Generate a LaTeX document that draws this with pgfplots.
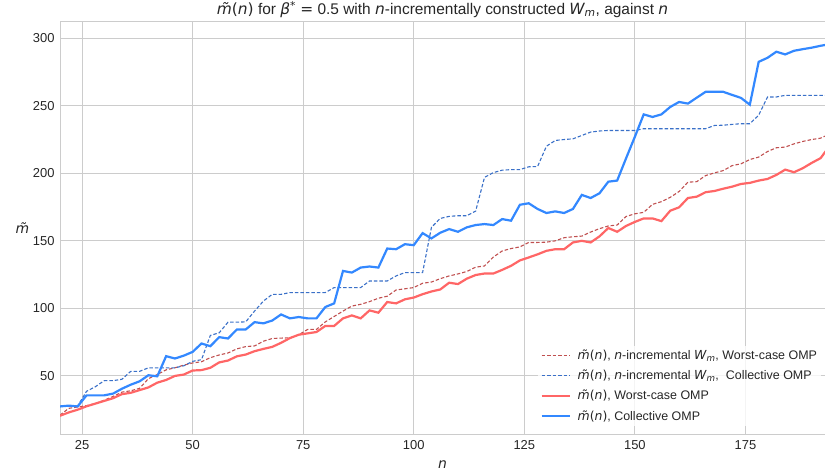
\documentclass[border=0pt]{standalone}
\usepackage{pgfplots}
\pgfplotsset{compat=1.18}
\usepackage{fontspec}
\setmainfont{Liberation Sans}
\newfontfamily\dv{DejaVu Sans}
\newcommand{\mi}[1]{{\dv\itshape #1}}
\newcommand{\mtn}{\mi{m̃}{\dv(}\mi{n}{\dv)}}
\definecolor{gridc}{HTML}{CCCCCC}
\definecolor{txt}{HTML}{262626}
\definecolor{redsolid}{HTML}{FF6666}
\definecolor{bluesolid}{HTML}{3388FF}
\definecolor{reddash}{HTML}{C05050}
\definecolor{bluedash}{HTML}{3A70C8}
\begin{document}
\begin{tikzpicture}
\begin{axis}[
  at={(0,0)}, anchor=south west,
  scale only axis, width=765bp, height=412bp,
  xmin=20, xmax=193, ymin=7, ymax=312,
  xtick={25,50,...,175}, ytick={50,100,...,300},
  grid=major, major grid style={gridc, line width=1bp},
  axis line style={gridc, line width=1bp},
  tick style={draw=none},
  /pgf/number format/assume math mode=true,
  ticklabel style={font=\fontsize{13}{15}\selectfont, text=txt},
  xticklabel style={yshift=-3bp},
  yticklabel style={xshift=-2bp},
  xlabel={\mi{n}}, ylabel={\mi{m̃}},
  xlabel style={font=\fontsize{14}{16}\selectfont, text=txt, yshift=-4bp},
  ylabel style={font=\fontsize{14}{16}\selectfont, text=txt, rotate=-90, at={(axis description cs:-0.049,0.5)}, anchor=center},
  title={\mtn\ for \mi{β}\textsuperscript{\dv *} {\dv=} 0.5 with \mi{n}-incrementally constructed \mi{W}\textsubscript{\mi{m}}, against \mi{n}},
  title style={font=\fontsize{15.5}{17}\selectfont, text=txt, yshift=-5bp},
  legend style={at={(0.995,0.02)}, anchor=south east, draw=none, fill=white, fill opacity=0.8, text opacity=1,
    font=\fontsize{12.5}{14}\selectfont, text=txt, row sep=5bp, inner sep=2bp},
  legend cell align=left,
  legend image code/.code={\draw[#1] (0bp,0bp) -- (28bp,0bp); \path (33bp,0bp);},
]
\addplot[reddash, line width=1.1bp, dash pattern=on 3.5bp off 2bp] coordinates {
(20,21) (22,26) (24,27) (26,28) (28,29.5) (30,32) (32,34.8) (34,38) (36,39) (38,40.8)
(40,48) (42,51) (44,54.5) (46,56) (48,58) (50,59.6) (52,60.5) (54,63.5) (56,65.5) (58,67)
(60,70) (62,71.7) (64,72.2) (66,75.7) (68,77.7) (70,78) (72,78.2) (74,80.5) (76,84.4) (78,84.4)
(80,90) (82,94) (84,98) (86,101.7) (88,103) (90,105) (92,107.5) (94,109) (96,113.6) (98,114.5)
(100,115.4) (102,118.6) (104,119.5) (106,122) (108,124) (110,125.5) (112,127.3) (114,130.5) (116,131.4) (118,138)
(120,142.5) (122,144.3) (124,145.5) (126,148.8) (128,148.8) (130,149) (132,150) (134,152.3) (136,153) (138,153.5)
(140,156.5) (142,159) (144,161) (146,161.7) (148,168) (150,170) (152,171.1) (154,177) (156,179) (158,182.2)
(160,186.5) (162,193.4) (164,193.8) (166,198.3) (168,200.3) (170,202) (172,205.7) (174,207) (176,210.2) (178,212)
(180,216.1) (182,218.9) (184,219.4) (186,221.8) (188,223.6) (190,225) (192,226) (194,229)
};
\addlegendentry{\mtn, \mi{n}-incremental \mi{W}\textsubscript{\mi{m}}, Worst-case OMP}
\addplot[bluedash, line width=1.1bp, dash pattern=on 3.5bp off 2bp] coordinates {
(20,27.4) (22,27.4) (24,27.8) (26,38.6) (28,42) (30,46.5) (32,46.5) (34,47.5) (36,53.4) (38,53.4)
(40,56) (42,56) (44,56) (46,56) (48,57.5) (50,60.8) (52,62) (54,80) (56,81.9) (58,89.8)
(60,89.8) (62,90) (64,98) (66,105.4) (68,110.4) (70,110.4) (72,111.7) (74,111.7) (76,111.7) (78,111.7)
(80,111.7) (82,115.4) (84,115.4) (86,115.4) (88,115.4) (90,120.3) (92,120.3) (94,120.3) (96,124) (98,126.5)
(100,126.5) (102,126.5) (104,160) (106,166.6) (108,168.1) (110,168.6) (112,168.6) (114,172) (116,197) (118,200.5)
(120,202.3) (122,202.7) (124,202.7) (126,204.8) (128,205) (130,220) (132,224.3) (134,225) (136,225.5) (138,228)
(140,230.5) (142,231.3) (144,231.7) (146,231.7) (148,231.7) (150,231.7) (152,233) (154,233) (156,233) (158,233)
(160,233) (162,233) (164,233) (166,233) (168,235.4) (170,235.6) (172,236.2) (174,236.7) (176,236.7) (178,243)
(180,256.5) (182,256.5) (184,257.7) (186,257.7) (188,257.7) (190,257.7) (192,257.7) (194,257.7)
};
\addlegendentry{\mtn, \mi{n}-incremental \mi{W}\textsubscript{\mi{m}},\ \ Collective OMP}
\addplot[redsolid, line width=2.2bp] coordinates {
(20,20.5) (22,23) (24,25) (26,27.5) (28,29.5) (30,31.5) (32,33.5) (34,36.5) (36,37.5) (38,39.5)
(40,41.5) (42,45) (44,47) (46,50) (48,51) (50,54) (52,54.3) (54,56) (56,60) (58,61.4)
(60,64.5) (62,65.8) (64,68.3) (66,70) (68,71.5) (70,74.5) (72,78) (74,80.5) (76,81.5) (78,82.5)
(80,87) (82,87) (84,92.6) (86,94.8) (88,92.6) (90,98.5) (92,96.8) (94,104.7) (96,103.7) (98,106.7)
(100,108) (102,110.5) (104,112.5) (106,114) (108,119) (110,118) (112,122) (114,124.7) (116,125.8) (118,125.8)
(120,128.5) (122,131.5) (124,135.5) (126,137.7) (128,140) (130,142.6) (132,143.8) (134,143.8) (136,148.8) (138,150)
(140,148.8) (142,153.3) (144,159.5) (146,156.7) (148,161) (150,164) (152,166.6) (154,166.6) (156,164.6) (158,172.3)
(160,174.8) (162,181.7) (164,182.7) (166,186) (168,186.9) (170,188.6) (172,190.1) (174,192.1) (176,192.9) (178,194.6)
(180,195.8) (182,198.8) (184,202.7) (186,200.8) (188,203.8) (190,207.7) (192,211.2) (194,220)
};
\addlegendentry{\mtn, Worst-case OMP}
\addplot[bluesolid, line width=2.2bp] coordinates {
(20,27.4) (22,28) (24,27.4) (26,35.6) (28,35.6) (30,35.6) (32,36.9) (34,40.5) (36,43.5) (38,46)
(40,50.5) (42,49.7) (44,64.6) (46,62.9) (48,65) (50,67.8) (52,74) (54,72) (56,78.7) (58,77.7)
(60,84.4) (62,84.4) (64,89.8) (66,88.9) (68,91) (70,95.5) (72,92.6) (74,93.6) (76,92.6) (78,92.6)
(80,101) (82,103.7) (84,127.7) (86,126.5) (88,130.2) (90,131) (92,130.2) (94,144.3) (96,143.8) (98,147.5)
(100,146.8) (102,155.7) (104,151.8) (106,156) (108,158.7) (110,156.7) (112,160) (114,161.7) (116,162.4) (118,161.7)
(120,166.1) (122,164.9) (124,176.7) (126,177.8) (128,173.6) (130,170.6) (132,171.8) (134,170.6) (136,173.6) (138,184)
(140,181.7) (142,185.2) (144,193.8) (146,194.6) (148,211) (150,227) (152,243.6) (154,241.7) (156,243.6) (158,249.1)
(160,252.8) (162,251.6) (164,256) (166,260.3) (168,260.3) (170,260.3) (172,258) (174,255.8) (176,250.8) (178,282.5)
(180,285.5) (182,290) (184,288) (186,290.7) (188,291.9) (190,293) (192,294.4) (194,295.5)
};
\addlegendentry{\mtn, Collective OMP}
\end{axis}
\pgfresetboundingbox
\path (-60bp,-40bp) rectangle (765bp,434bp);
\end{tikzpicture}
\end{document}
